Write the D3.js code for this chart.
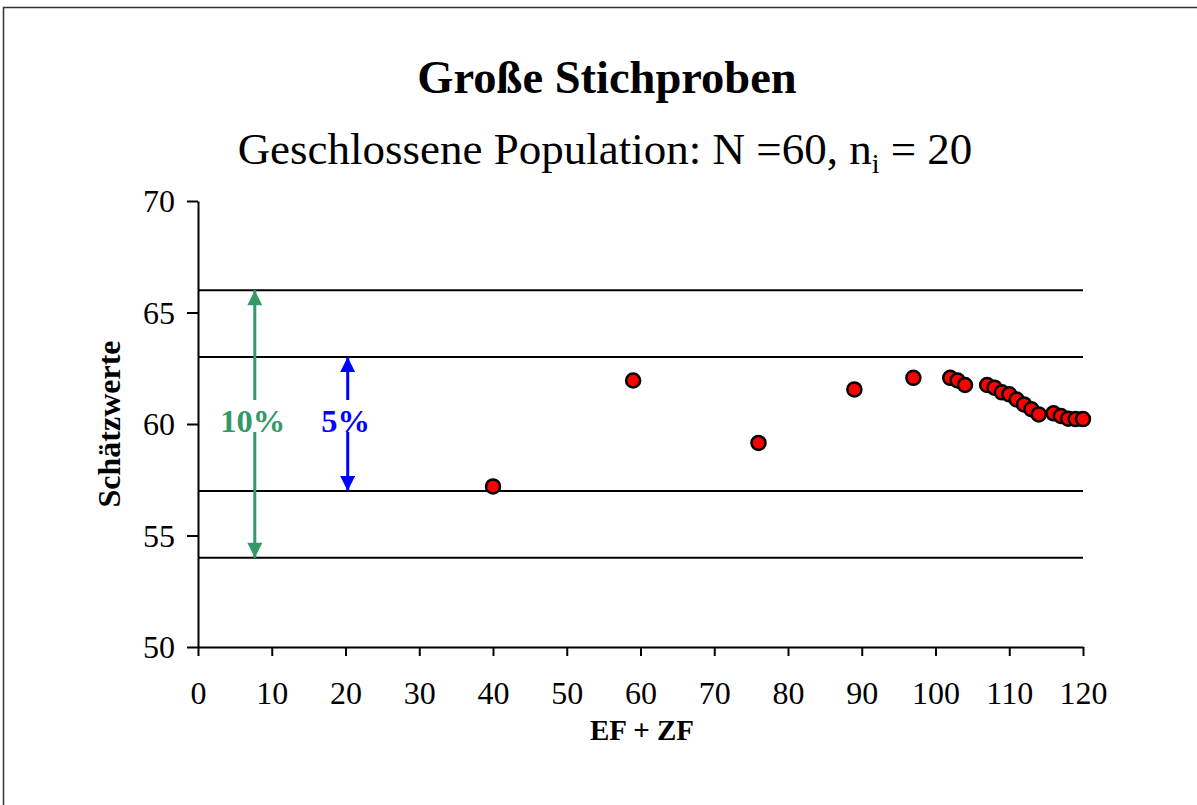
<!DOCTYPE html>
<html>
<head>
<meta charset="utf-8">
<script src="https://cdn.jsdelivr.net/npm/d3@7"></script>
<style>
  body { margin: 0; background: #fff; }
  text { font-family: "Liberation Serif", "Times New Roman", serif; }
</style>
</head>
<body>
<div id="chart"></div>
<script>
// sample size (EF + ZF) and estimate (Schätzwerte)
const sampleSizes = [40, 59, 76, 89, 97, 102, 103, 104, 107, 108, 109, 110, 111, 112, 113, 114, 116, 117, 118, 119, 120];
const estimates = [57.2, 61.95, 59.15, 61.55, 62.07, 62.07, 61.95, 61.75, 61.75, 61.63, 61.42, 61.33, 61.1, 60.88, 60.66, 60.43, 60.48, 60.36, 60.24, 60.22, 60.22];
const refLines = [54, 57, 63, 66];
const xTicks = [0, 10, 20, 30, 40, 50, 60, 70, 80, 90, 100, 110, 120];
const yTicks = [50, 55, 60, 65, 70];
const bandLabels = ["10%", "5%"];
const bandLow = [54, 57];
const bandHigh = [66, 63];
const bandAt = [7.7, 20.3];
const bandColors = ["#339966", "#0000ff"];

const width = 1197, height = 805;
const margin = { top: 201, right: 114, bottom: 158, left: 198 };

const svg = d3.select("#chart").append("svg")
  .attr("width", width)
  .attr("height", height);

// outer frame (cut off at right and bottom)
svg.append("rect")
  .attr("x", 3.5).attr("y", 7.5)
  .attr("width", 1300).attr("height", 900)
  .attr("fill", "none")
  .attr("stroke", "#333")
  .attr("stroke-width", 1.5);

const x = d3.scaleLinear().domain([0, 120]).range([margin.left, width - margin.right]);
const y = d3.scaleLinear().domain([50, 70]).range([height - margin.bottom, margin.top]);

svg.append("text")
  .attr("x", 607).attr("y", 93)
  .attr("text-anchor", "middle")
  .style("font-size", "46.5px")
  .style("font-weight", "bold")
  .text("Große Stichproben");

const sub = svg.append("text")
  .attr("x", 605).attr("y", 164)
  .attr("text-anchor", "middle")
  .style("font-size", "45px");
sub.append("tspan").text("Geschlossene Population: N =60, n");
sub.append("tspan").attr("dy", 9).style("font-size", "28px").text("i");
sub.append("tspan").attr("dy", -9).text(" = 20");

// reference lines
svg.append("g").selectAll("line")
  .data(refLines)
  .join("line")
  .attr("x1", x(0)).attr("x2", x(120))
  .attr("y1", d => y(d)).attr("y2", d => y(d))
  .attr("stroke", "#000")
  .attr("stroke-width", 2);

// axes
const xAxis = svg.append("g")
  .attr("transform", `translate(0,${y(50)})`)
  .call(d3.axisBottom(x).tickValues(xTicks).tickSize(9).tickPadding(25).tickSizeOuter(0));
const yAxis = svg.append("g")
  .attr("transform", `translate(${x(0)},0)`)
  .call(d3.axisLeft(y).tickValues(yTicks).tickSize(11).tickPadding(12).tickSizeOuter(0));
[xAxis, yAxis].forEach(a => {
  a.select(".domain").attr("stroke", "#000").attr("stroke-width", 2);
  a.selectAll(".tick line").attr("stroke", "#000").attr("stroke-width", 2);
  a.selectAll(".tick text")
    .attr("fill", "#000")
    .style("font-size", "32px")
    .style("font-family", "'Liberation Serif', 'Times New Roman', serif");
});
yAxis.selectAll(".tick text").attr("dy", "0.34em");

svg.append("text")
  .attr("x", 642).attr("y", 740)
  .attr("text-anchor", "middle")
  .style("font-size", "29px")
  .style("font-weight", "bold")
  .text("EF + ZF");

svg.append("text")
  .attr("transform", `translate(120,${y(60)}) rotate(-90)`)
  .attr("text-anchor", "middle")
  .style("font-size", "32px")
  .style("font-weight", "bold")
  .text("Schätzwerte");

// percentage arrows
const defs = svg.append("defs");
bandColors.forEach((c, i) => {
  defs.append("marker")
    .attr("id", "head" + i)
    .attr("viewBox", "0 0 10 10")
    .attr("refX", 10).attr("refY", 5)
    .attr("markerWidth", 23).attr("markerHeight", 15)
    .attr("markerUnits", "userSpaceOnUse")
    .attr("orient", "auto")
    .append("path")
    .attr("d", "M0,0L10,5L0,10Z")
    .attr("fill", c);
});

const labelY = y(60);
bandLabels.forEach((lab, i) => {
  const ax = x(bandAt[i]);
  const g = svg.append("g");
  g.append("line")
    .attr("x1", ax).attr("x2", ax)
    .attr("y1", labelY - 24).attr("y2", y(bandHigh[i]))
    .attr("stroke", bandColors[i]).attr("stroke-width", 3)
    .attr("marker-end", `url(#head${i})`);
  g.append("line")
    .attr("x1", ax).attr("x2", ax)
    .attr("y1", labelY + 8).attr("y2", y(bandLow[i]))
    .attr("stroke", bandColors[i]).attr("stroke-width", 3)
    .attr("marker-end", `url(#head${i})`);
  g.append("text")
    .attr("x", ax - 2).attr("y", labelY + 8)
    .attr("text-anchor", "middle")
    .attr("fill", bandColors[i])
    .style("font-size", "32.5px")
    .style("font-weight", "bold")
    .text(lab);
});

// points
svg.append("g").selectAll("circle")
  .data(sampleSizes.map((s, i) => [s, estimates[i]]))
  .join("circle")
  .attr("cx", d => x(d[0]))
  .attr("cy", d => y(d[1]))
  .attr("r", 7)
  .attr("fill", "#ff0000")
  .attr("stroke", "#000")
  .attr("stroke-width", 2.5);
</script>
</body>
</html>
